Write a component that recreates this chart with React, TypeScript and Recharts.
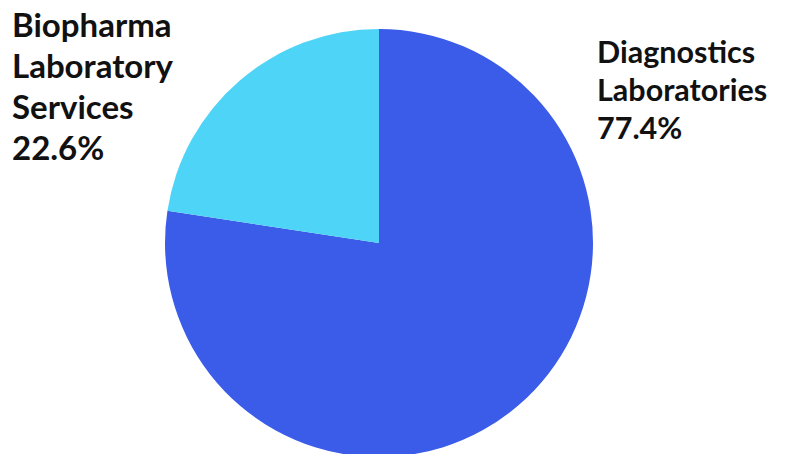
import { PieChart, Pie, Cell } from "recharts";

const segments = ["Diagnostics Laboratories", "Biopharma Laboratory Services"];
const shares = [77.4, 22.6];
const colors = ["#3B5CE8", "#4DD4F7"];
const labelLines = [
  ["Diagnostics", "Laboratories"],
  ["Biopharma", "Laboratory", "Services"],
];

const data = segments.map((name, i) => ({ name, value: shares[i] }));

// label boxes (left edge, first baseline, font size, line gap)
const labelSpots = [
  { x: 597, y: 63, size: 30.5, gap: 38 },
  { x: 12, y: 37, size: 33, gap: 41 },
];

function renderLabel(props: any) {
  const i = props.index;
  const spot = labelSpots[i];
  const lines = [...labelLines[i], `${shares[i].toFixed(1)}%`];
  return (
    <text
      x={spot.x}
      y={spot.y}
      fill="#111"
      fontFamily="Lato, 'Open Sans', sans-serif"
      fontWeight={700}
      fontSize={spot.size}
      textAnchor="start"
    >
      {lines.map((l, k) => (
        <tspan key={k} x={spot.x} y={spot.y + k * spot.gap}>
          {l}
        </tspan>
      ))}
    </text>
  );
}

export default function App() {
  return (
    <div style={{ position: "absolute", left: 0, top: 0, width: 786, height: 454, background: "#fff" }}>
      <PieChart width={786} height={454} margin={{ top: 0, right: 0, bottom: 0, left: 0 }}>
        <Pie
          data={data}
          dataKey="value"
          nameKey="name"
          cx={379}
          cy={243}
          outerRadius={214}
          startAngle={90}
          endAngle={-270}
          stroke="none"
          label={renderLabel}
          labelLine={false}
          isAnimationActive={false}
        >
          {data.map((d, i) => (
            <Cell key={d.name} fill={colors[i]} />
          ))}
        </Pie>
      </PieChart>
    </div>
  );
}
